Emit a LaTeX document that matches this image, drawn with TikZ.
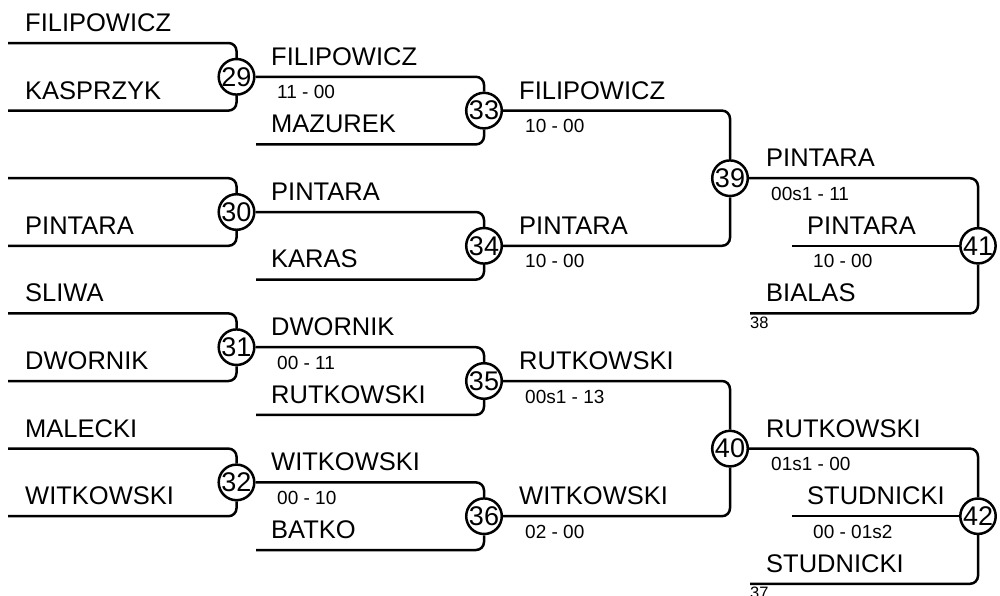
\documentclass[tikz,border=0pt]{standalone}
\usepackage{fontspec}
\setmainfont{Liberation Sans}
\begin{document}
\begin{tikzpicture}[x=1pt,y=-1pt,
 m/.style={circle,draw,line width=2.5pt,minimum size=35pt,inner sep=0pt,fill=white,font=\fontsize{27}{27}\selectfont},
 nm/.style={anchor=base west,inner sep=0pt,font=\fontsize{25.5}{25.5}\selectfont},
 sc/.style={anchor=base west,inner sep=0pt,font=\fontsize{19}{19}\selectfont},
 sm/.style={anchor=base west,inner sep=0pt,font=\fontsize{16.5}{16.5}\selectfont},
 ln/.style={line width=2.5pt,rounded corners=8pt}]
\useasboundingbox (0,0) rectangle (1000,595);
% match circles
\node[m] (c29) at (236.5,76.8) {29};
\node[m] (c30) at (236.5,212) {30};
\node[m] (c31) at (236.5,347.2) {31};
\node[m] (c32) at (236.5,482.4) {32};
\node[m] (c33) at (484,110.6) {33};
\node[m] (c34) at (484,245.8) {34};
\node[m] (c35) at (484,381) {35};
\node[m] (c36) at (484,516.2) {36};
\node[m] (c39) at (730,178.2) {39};
\node[m] (c40) at (730,448.6) {40};
\node[m] (c41) at (978,245.8) {41};
\node[m] (c42) at (978,516.2) {42};
% free ends
\coordinate (a0) at (8,43);
\coordinate (a1) at (8,110.6);
\coordinate (a2) at (8,178.2);
\coordinate (a3) at (8,245.8);
\coordinate (a4) at (8,313.4);
\coordinate (a5) at (8,381);
\coordinate (a6) at (8,448.6);
\coordinate (a7) at (8,516.2);
\coordinate (b1) at (256,144.4);
\coordinate (b3) at (256,279.6);
\coordinate (b5) at (256,414.8);
\coordinate (b7) at (256,550);
\coordinate (m3) at (792,245.8);
\coordinate (e4) at (750,313.4);
\coordinate (m7) at (792,516.2);
\coordinate (e8) at (750,583.8);
% connectors
\draw[ln] (a0) -| (c29);
\draw[ln] (a1) -| (c29);
\draw[ln] (a2) -| (c30);
\draw[ln] (a3) -| (c30);
\draw[ln] (a4) -| (c31);
\draw[ln] (a5) -| (c31);
\draw[ln] (a6) -| (c32);
\draw[ln] (a7) -| (c32);
\draw[ln] (c29) -| (c33);
\draw[ln] (b1) -| (c33);
\draw[ln] (c30) -| (c34);
\draw[ln] (b3) -| (c34);
\draw[ln] (c31) -| (c35);
\draw[ln] (b5) -| (c35);
\draw[ln] (c32) -| (c36);
\draw[ln] (b7) -| (c36);
\draw[ln] (c33) -| (c39);
\draw[ln] (c34) -| (c39);
\draw[ln] (c35) -| (c40);
\draw[ln] (c36) -| (c40);
\draw[ln] (c39) -| (c41);
\draw[ln] (m3) -- (c41);
\draw[ln] (e4) -| (c41);
\draw[ln] (c40) -| (c42);
\draw[ln] (m7) -- (c42);
\draw[ln] (e8) -| (c42);
% round 1 names
\node[nm] (n1) at (25,31.5) {FILIPOWICZ};
\node[nm] (n2) at (25,99.1) {KASPRZYK};
\node[nm] (n3) at (25,234.3) {PINTARA};
\node[nm] (n4) at (25,301.9) {SLIWA};
\node[nm] (n5) at (25,369.5) {DWORNIK};
\node[nm] (n6) at (25,437.1) {MALECKI};
\node[nm] (n7) at (25,504.7) {WITKOWSKI};
% round 2
\node[nm] (r2a) at (271,65.3) {FILIPOWICZ};
\node[sc] (s29) at (277,98.8) {11 - 00};
\node[nm] (r2b) at (271,132.6) {MAZUREK};
\node[nm] (r2c) at (271,200.5) {PINTARA};
\node[nm] (r2d) at (271,267.8) {KARAS};
\node[nm] (r2e) at (271,335.7) {DWORNIK};
\node[sc] (s31) at (277,369.2) {00 - 11};
\node[nm] (r2f) at (271,403) {RUTKOWSKI};
\node[nm] (r2g) at (271,470.9) {WITKOWSKI};
\node[sc] (s32) at (277,504.4) {00 - 10};
\node[nm] (r2h) at (271,538.2) {BATKO};
% round 3
\node[nm] (r3a) at (519,99.1) {FILIPOWICZ};
\node[sc] (s33) at (525,132.6) {10 - 00};
\node[nm] (r3b) at (519,234.3) {PINTARA};
\node[sc] (s34) at (525,267.8) {10 - 00};
\node[nm] (r3c) at (519,369.5) {RUTKOWSKI};
\node[sc] (s35) at (525,403) {00s1 - 13};
\node[nm] (r3d) at (519,504.7) {WITKOWSKI};
\node[sc] (s36) at (525,538.2) {02 - 00};
% round 4
\node[nm] (r4a) at (766,166.7) {PINTARA};
\node[sc] (s39) at (771,200.2) {00s1 - 11};
\node[nm] (r4b) at (807,234.3) {PINTARA};
\node[sc] (s41) at (813,267.8) {10 - 00};
\node[nm] (r4c) at (766,301.9) {BIALAS};
\node[sm] (t38) at (750,328) {38};
\node[nm] (r4d) at (766,437.1) {RUTKOWSKI};
\node[sc] (s40) at (771,470.6) {01s1 - 00};
\node[nm] (r4e) at (807,504.7) {STUDNICKI};
\node[sc] (s42) at (813,538.2) {00 - 01s2};
\node[nm] (r4f) at (766,572.3) {STUDNICKI};
\node[sm] (t37) at (750,598.8) {37};
\end{tikzpicture}
\end{document}
